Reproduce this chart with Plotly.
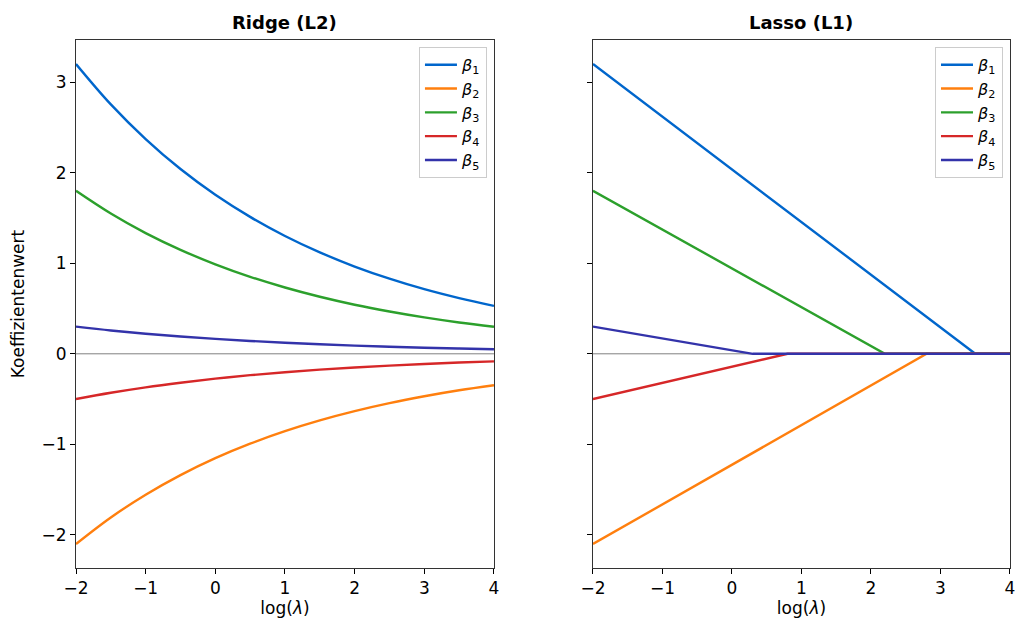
import plotly.graph_objects as go
from plotly.subplots import make_subplots

# Ridge path (at log(lambda) steps of 0.5)
ridge_x = [-2.0, -1.5, -1.0, -0.5, 0.0, 0.5, 1.0, 1.5, 2.0, 2.5, 3.0, 3.5, 4.0]
ridge_b1 = [3.2, 2.754, 2.371, 2.040, 1.756, 1.512, 1.301, 1.120, 0.964, 0.830, 0.714, 0.615, 0.529]
ridge_b2 = [-2.1, -1.807, -1.556, -1.339, -1.152, -0.992, -0.854, -0.735, -0.633, -0.545, -0.469, -0.403, -0.347]
ridge_b3 = [1.8, 1.549, 1.333, 1.148, 0.988, 0.850, 0.732, 0.630, 0.542, 0.467, 0.402, 0.346, 0.298]
ridge_b4 = [-0.5, -0.430, -0.370, -0.319, -0.274, -0.236, -0.203, -0.175, -0.151, -0.130, -0.112, -0.096, -0.083]
ridge_b5 = [0.3, 0.258, 0.222, 0.191, 0.165, 0.142, 0.122, 0.105, 0.090, 0.078, 0.067, 0.058, 0.050]

# Lasso path (knots: start, point where coefficient hits zero, end)
lasso_x1 = [-2.0, 3.5, 4.0]
lasso_b1 = [3.2, 0.0, 0.0]
lasso_x2 = [-2.0, 2.8, 4.0]
lasso_b2 = [-2.1, 0.0, 0.0]
lasso_x3 = [-2.0, 2.2, 4.0]
lasso_b3 = [1.8, 0.0, 0.0]
lasso_x4 = [-2.0, 0.8, 4.0]
lasso_b4 = [-0.5, 0.0, 0.0]
lasso_x5 = [-2.0, 0.3, 4.0]
lasso_b5 = [0.3, 0.0, 0.0]

names = ["<i>β</i><sub>1</sub>", "<i>β</i><sub>2</sub>", "<i>β</i><sub>3</sub>",
         "<i>β</i><sub>4</sub>", "<i>β</i><sub>5</sub>"]
colors = ["#0066CC", "#FF7F0E", "#2CA02C", "#D62728", "#3333AA"]
titles = ["Ridge (L2)", "Lasso (L1)"]
x_ticks = [-2, -1, 0, 1, 2, 3, 4]
y_ticks = [-2, -1, 0, 1, 2, 3]

fig = make_subplots(rows=1, cols=2, shared_yaxes=True)

ridge_series = [ridge_b1, ridge_b2, ridge_b3, ridge_b4, ridge_b5]
for name, col, ys in zip(names, colors, ridge_series):
    fig.add_trace(go.Scatter(x=ridge_x, y=ys, mode="lines", name=name,
                             line=dict(color=col, width=2.4, shape="spline"),
                             legend="legend"), row=1, col=1)

lasso_series = [(lasso_x1, lasso_b1), (lasso_x2, lasso_b2), (lasso_x3, lasso_b3),
                (lasso_x4, lasso_b4), (lasso_x5, lasso_b5)]
for name, col, (xs, ys) in zip(names, colors, lasso_series):
    fig.add_trace(go.Scatter(x=xs, y=ys, mode="lines", name=name,
                             line=dict(color=col, width=2.4),
                             legend="legend2"), row=1, col=2)

for xref in ["x domain", "x2 domain"]:
    fig.add_shape(type="line", xref=xref, yref="y", x0=0, x1=1, y0=0, y1=0,
                  line=dict(color="#808080", width=1), layer="below")

axis_common = dict(showline=True, linecolor="#333333", linewidth=1, mirror=True,
                   ticks="outside", ticklen=5, tickwidth=1, tickcolor="#000000",
                   showgrid=False, zeroline=False,
                   tickfont=dict(family="DejaVu Sans", size=17, color="#000000"))

fig.update_xaxes(range=[-2, 4], tickvals=x_ticks, **axis_common,
                 title=dict(text="log(<i>λ</i>)", standoff=2,
                            font=dict(family="DejaVu Sans", size=17, color="#000000")))
fig.update_xaxes(domain=[0.0, 0.4475], row=1, col=1)
fig.update_xaxes(domain=[0.5535, 1.0], row=1, col=2)
fig.update_yaxes(range=[-2.365, 3.465], tickvals=y_ticks, **axis_common)
fig.update_yaxes(title=dict(text="Koeffizientenwert", standoff=12,
                            font=dict(family="DejaVu Sans", size=17, color="#000000")),
                 row=1, col=1)
fig.update_yaxes(showticklabels=False, row=1, col=2)

annotations = []
for t, xc in zip(titles, [0.4475 / 2, (0.5535 + 1.0) / 2]):
    annotations.append(dict(text="<b>" + t + "</b>", x=xc, y=1.0, xref="paper", yref="paper",
                            xanchor="center", yanchor="bottom", yshift=5, showarrow=False,
                            font=dict(family="DejaVu Sans", size=18, color="#000000")))

legend_common = dict(bgcolor="rgba(255,255,255,0.8)", bordercolor="#CCCCCC", borderwidth=1,
                     font=dict(family="DejaVu Sans", size=16, color="#000000"),
                     xanchor="right", yanchor="top", tracegroupgap=0, itemwidth=32)

fig.update_layout(
    width=1016, height=622,
    margin=dict(l=76, r=1, t=40, b=54),
    paper_bgcolor="white", plot_bgcolor="white",
    annotations=annotations,
    legend=dict(x=0.440, y=0.987, **legend_common),
    legend2=dict(x=0.9925, y=0.987, **legend_common),
)

fig.write_html("out.html", config={"displayModeBar": False},
               post_script="document.body.style.margin='0';")
